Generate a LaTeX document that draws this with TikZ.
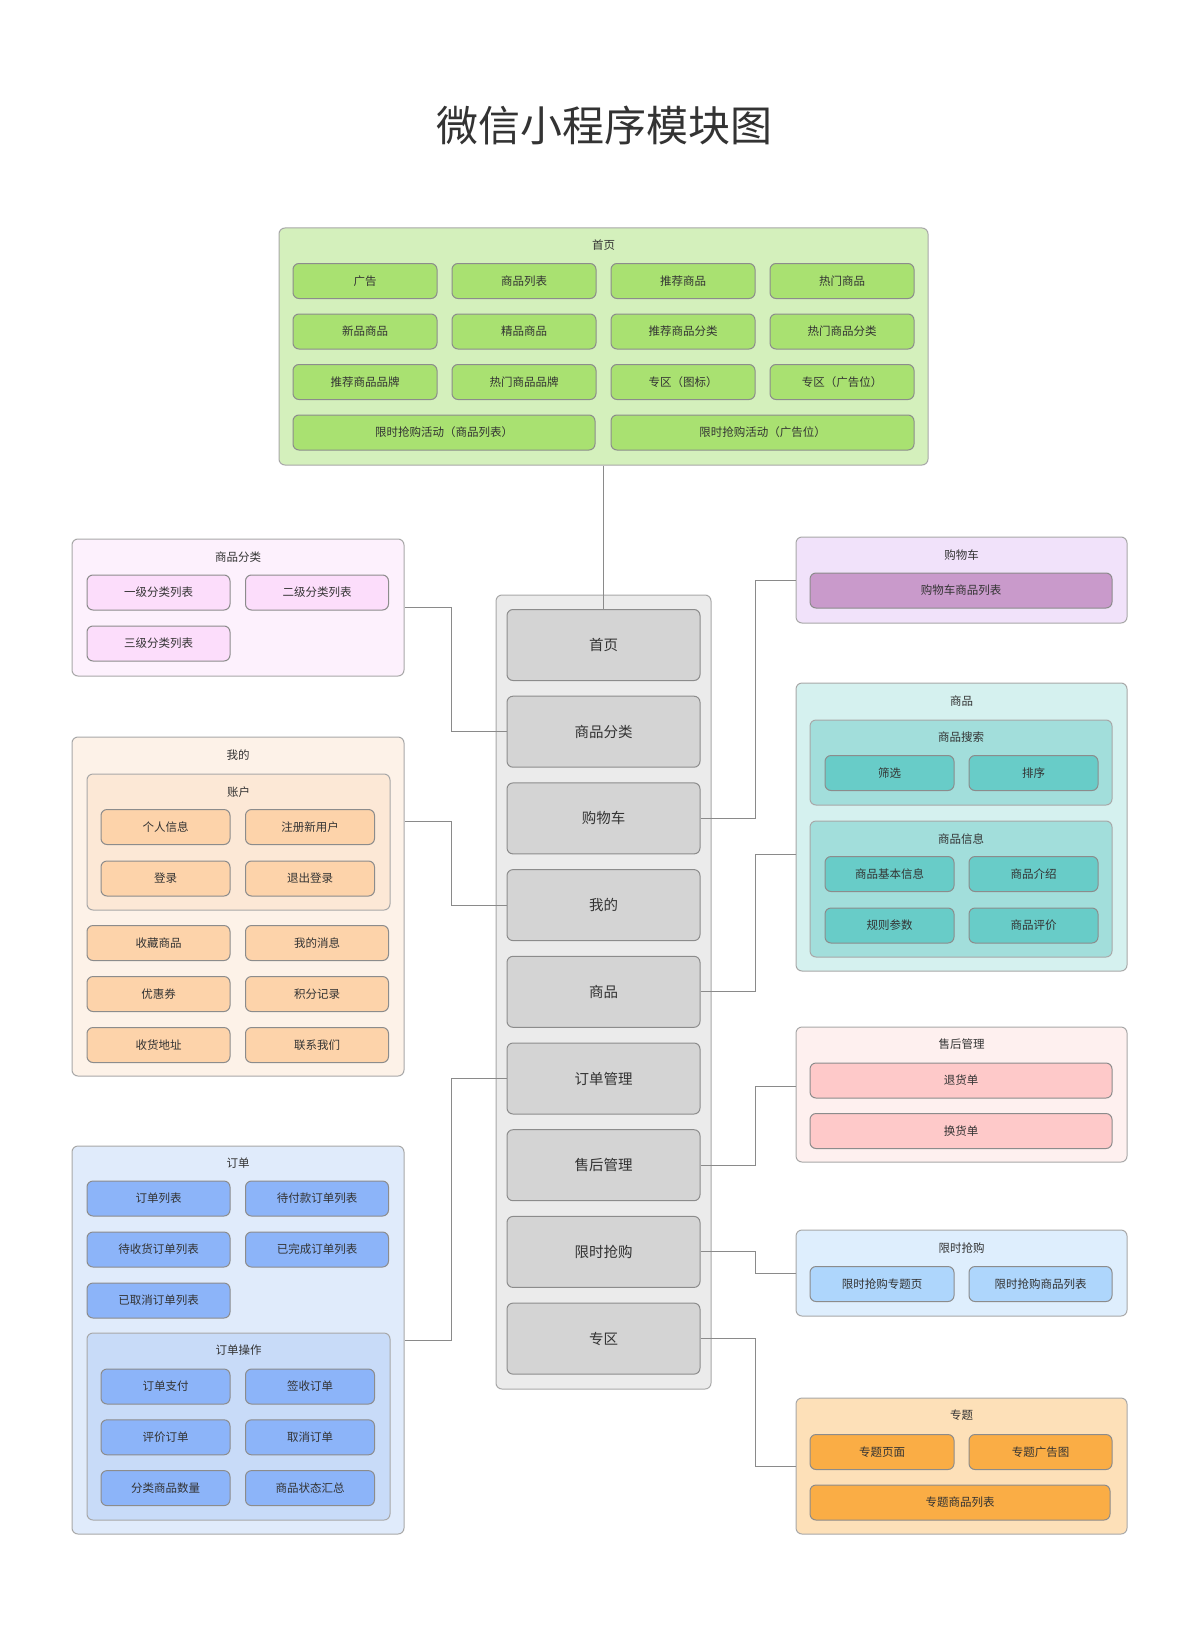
\documentclass[tikz,border=0pt]{standalone}
\usepackage{fontspec}
\setmainfont{Noto Sans CJK SC}
\usetikzlibrary{calc}
\definecolor{Ink}{HTML}{333333}
\definecolor{GrpLine}{HTML}{A8A8A8}
\definecolor{ItemLine}{HTML}{8C8C8C}
\definecolor{LinkGray}{HTML}{8A8A8A}
\definecolor{HomeBg}{HTML}{D4F0BC}
\definecolor{HomeItem}{HTML}{A9E171}
\definecolor{CatBg}{HTML}{FDF1FD}
\definecolor{CatItem}{HTML}{FCDDFB}
\definecolor{MineBg}{HTML}{FDF2E8}
\definecolor{MineSub}{HTML}{FCE8D6}
\definecolor{MineItem}{HTML}{FDD3AA}
\definecolor{OrdBg}{HTML}{E0EBFB}
\definecolor{OrdSub}{HTML}{C8DBF8}
\definecolor{OrdItem}{HTML}{8CB4F9}
\definecolor{MainBg}{HTML}{EBEBEB}
\definecolor{MainItem}{HTML}{D4D4D4}
\definecolor{CartBg}{HTML}{F1E2FA}
\definecolor{CartItem}{HTML}{C99ACB}
\definecolor{GoodsBg}{HTML}{D5F1EF}
\definecolor{GoodsSub}{HTML}{A2DEDB}
\definecolor{GoodsItem}{HTML}{68CCC8}
\definecolor{SvcBg}{HTML}{FEF0EF}
\definecolor{SvcItem}{HTML}{FEC9C9}
\definecolor{FlashBg}{HTML}{DEEEFD}
\definecolor{FlashItem}{HTML}{AED6FC}
\definecolor{TopicBg}{HTML}{FDE0B8}
\definecolor{TopicItem}{HTML}{FAAD45}

\begin{document}
\begin{tikzpicture}[x=1pt,y=-1pt,
  every node/.style={font=\fontsize{11.5}{13}\selectfont, text=Ink},
  grp/.style={draw=GrpLine, line width=1pt, rounded corners=6pt, inner sep=0pt},
  item/.style={draw=ItemLine, line width=1pt, rounded corners=6pt, inner sep=0pt, minimum height=35},
  mainitem/.style={item, fill=MainItem, minimum width=193, minimum height=71, font=\fontsize{14.5}{16}\selectfont},
  link/.style={draw=LinkGray, line width=1pt}]
  \fill[white] (0,0) rectangle (1200,1637);
  \useasboundingbox (0,0) rectangle (1200,1637);

  \node[font=\fontsize{42}{46}\selectfont] (title) at (604,125) {微信小程序模块图};

  % 首页
  \node[grp, fill=HomeBg, minimum width=649, minimum height=237] (homegrp) at (603.5,346.5) {};
  \node (homettl) at (603.5,245) {首页};
  \foreach \lab [count=\i from 0] in {广告,商品列表,推荐商品,热门商品,新品商品,精品商品,推荐商品分类,热门商品分类,推荐商品品牌,热门商品品牌,专区（图标）,专区（广告位）}{
    \pgfmathsetmacro\cx{365+159*mod(\i,4)}
    \pgfmathsetmacro\cy{281+50.5*int(\i/4)}
    \node[item, fill=HomeItem, minimum width=144] (home\i) at (\cx,\cy) {\lab};
  }
  \node[item, fill=HomeItem, minimum width=302] (homeflash1) at (444,432.5) {限时抢购活动（商品列表）};
  \node[item, fill=HomeItem, minimum width=303] (homeflash2) at (762.5,432.5) {限时抢购活动（广告位）};

  % main column
  \node[grp, fill=MainBg, minimum width=215, minimum height=794] (maingrp) at (603.5,992) {};
  \foreach \lab [count=\i from 0] in {首页,商品分类,购物车,我的,商品,订单管理,售后管理,限时抢购,专区}{
    \node[mainitem] (main\i) at (603.5,{645+86.7*\i}) {\lab};
  }

  % 商品分类
  \node[grp, fill=CatBg, minimum width=332, minimum height=137] (catgrp) at (238,607.5) {};
  \node (catttl) at (238,557) {商品分类};
  \node[item, fill=CatItem, minimum width=143] (cat1) at (158.5,592.5) {一级分类列表};
  \node[item, fill=CatItem, minimum width=143] (cat2) at (317,592.5) {二级分类列表};
  \node[item, fill=CatItem, minimum width=143] (cat3) at (158.5,643.5) {三级分类列表};

  % 我的
  \node[grp, fill=MineBg, minimum width=332, minimum height=339] (minegrp) at (238,906.5) {};
  \node (minettl) at (238,755) {我的};
  \node[grp, fill=MineSub, minimum width=303, minimum height=136] (acctgrp) at (238.5,842) {};
  \node (acctttl) at (238.5,792) {账户};
  \foreach \lab [count=\i from 0] in {个人信息,注册新用户,登录,退出登录}{
    \pgfmathsetmacro\cx{165.5+144.5*mod(\i,2)}
    \pgfmathsetmacro\cy{827+51.5*int(\i/2)}
    \node[item, fill=MineItem, minimum width=129] (acct\i) at (\cx,\cy) {\lab};
  }
  \foreach \lab [count=\i from 0] in {收藏商品,我的消息,优惠券,积分记录,收货地址,联系我们}{
    \pgfmathsetmacro\cx{158.5+158.5*mod(\i,2)}
    \pgfmathsetmacro\cy{943+51*int(\i/2)}
    \node[item, fill=MineItem, minimum width=143] (mine\i) at (\cx,\cy) {\lab};
  }

  % 订单
  \node[grp, fill=OrdBg, minimum width=332, minimum height=388] (ordgrp) at (238,1340) {};
  \node (ordttl) at (238,1163) {订单};
  \foreach \lab [count=\i from 0] in {订单列表,待付款订单列表,待收货订单列表,已完成订单列表,已取消订单列表}{
    \pgfmathsetmacro\cx{158.5+158.5*mod(\i,2)}
    \pgfmathsetmacro\cy{1198.5+51*int(\i/2)}
    \node[item, fill=OrdItem, minimum width=143] (ord\i) at (\cx,\cy) {\lab};
  }
  \node[grp, fill=OrdSub, minimum width=303, minimum height=187] (opgrp) at (238.5,1426.5) {};
  \node (opttl) at (238.5,1350) {订单操作};
  \foreach \lab [count=\i from 0] in {订单支付,签收订单,评价订单,取消订单,分类商品数量,商品状态汇总}{
    \pgfmathsetmacro\cx{165.5+144.5*mod(\i,2)}
    \pgfmathsetmacro\cy{1386.5+50.8*int(\i/2)}
    \node[item, fill=OrdItem, minimum width=129] (op\i) at (\cx,\cy) {\lab};
  }

  % 购物车
  \node[grp, fill=CartBg, minimum width=331, minimum height=86] (cartgrp) at (961.5,580) {};
  \node (cartttl) at (961.5,555) {购物车};
  \node[item, fill=CartItem, minimum width=302] (cart1) at (961,590.5) {购物车商品列表};

  % 商品
  \node[grp, fill=GoodsBg, minimum width=331, minimum height=288] (goodsgrp) at (961.5,827) {};
  \node (goodsttl) at (961.5,701) {商品};
  \node[grp, fill=GoodsSub, minimum width=302, minimum height=85] (srchgrp) at (961,762.5) {};
  \node (srchttl) at (961,737) {商品搜索};
  \node[item, fill=GoodsItem, minimum width=129] (srch1) at (889.5,773) {筛选};
  \node[item, fill=GoodsItem, minimum width=129] (srch2) at (1033.5,773) {排序};
  \node[grp, fill=GoodsSub, minimum width=302, minimum height=136] (infogrp) at (961,889) {};
  \node (infottl) at (961,839) {商品信息};
  \foreach \lab [count=\i from 0] in {商品基本信息,商品介绍,规则参数,商品评价}{
    \pgfmathsetmacro\cx{889.5+144*mod(\i,2)}
    \pgfmathsetmacro\cy{874+51.5*int(\i/2)}
    \node[item, fill=GoodsItem, minimum width=129] (info\i) at (\cx,\cy) {\lab};
  }

  % 售后管理
  \node[grp, fill=SvcBg, minimum width=331, minimum height=135] (svcgrp) at (961.5,1094.5) {};
  \node (svcttl) at (961.5,1044) {售后管理};
  \node[item, fill=SvcItem, minimum width=302] (svc1) at (961,1080.5) {退货单};
  \node[item, fill=SvcItem, minimum width=302] (svc2) at (961,1131) {换货单};

  % 限时抢购
  \node[grp, fill=FlashBg, minimum width=331, minimum height=86] (flashgrp) at (961.5,1273) {};
  \node (flashttl) at (961.5,1248) {限时抢购};
  \node[item, fill=FlashItem, minimum width=144] (flash1) at (882,1284) {限时抢购专题页};
  \node[item, fill=FlashItem, minimum width=143] (flash2) at (1040.5,1284) {限时抢购商品列表};

  % 专题
  \node[grp, fill=TopicBg, minimum width=331, minimum height=136] (topicgrp) at (961.5,1466) {};
  \node (topicttl) at (961.5,1415) {专题};
  \node[item, fill=TopicItem, minimum width=144] (topic1) at (882,1452) {专题页面};
  \node[item, fill=TopicItem, minimum width=143] (topic2) at (1040.5,1452) {专题广告图};
  \node[item, fill=TopicItem, minimum width=300] (topic3) at (960,1502.5) {专题商品列表};

  % links
  \draw[link] (homegrp.south) -- (main0.north);
  \draw[link] (catgrp.east) -- ++(47,0) |- (main1.west);
  \draw[link] ($(minegrp.north east)!0.25!(minegrp.south east)$) -- ++(47,0) |- (main3.west);
  \draw[link] (ordgrp.east) -- ++(47,0) |- (main5.west);
  \draw[link] (main2.east) -- ++(55,0) |- (cartgrp.west);
  \draw[link] (main4.east) -- ++(55,0) |- ($(goodsgrp.north west)!0.594!(goodsgrp.south west)$);
  \draw[link] (main6.east) -- ++(55,0) |- ($(svcgrp.north west)!0.444!(svcgrp.south west)$);
  \draw[link] (main7.east) -- ++(55,0) |- (flashgrp.west);
  \draw[link] (main8.east) -- ++(55,0) |- (topicgrp.west);
\end{tikzpicture}
\end{document}
